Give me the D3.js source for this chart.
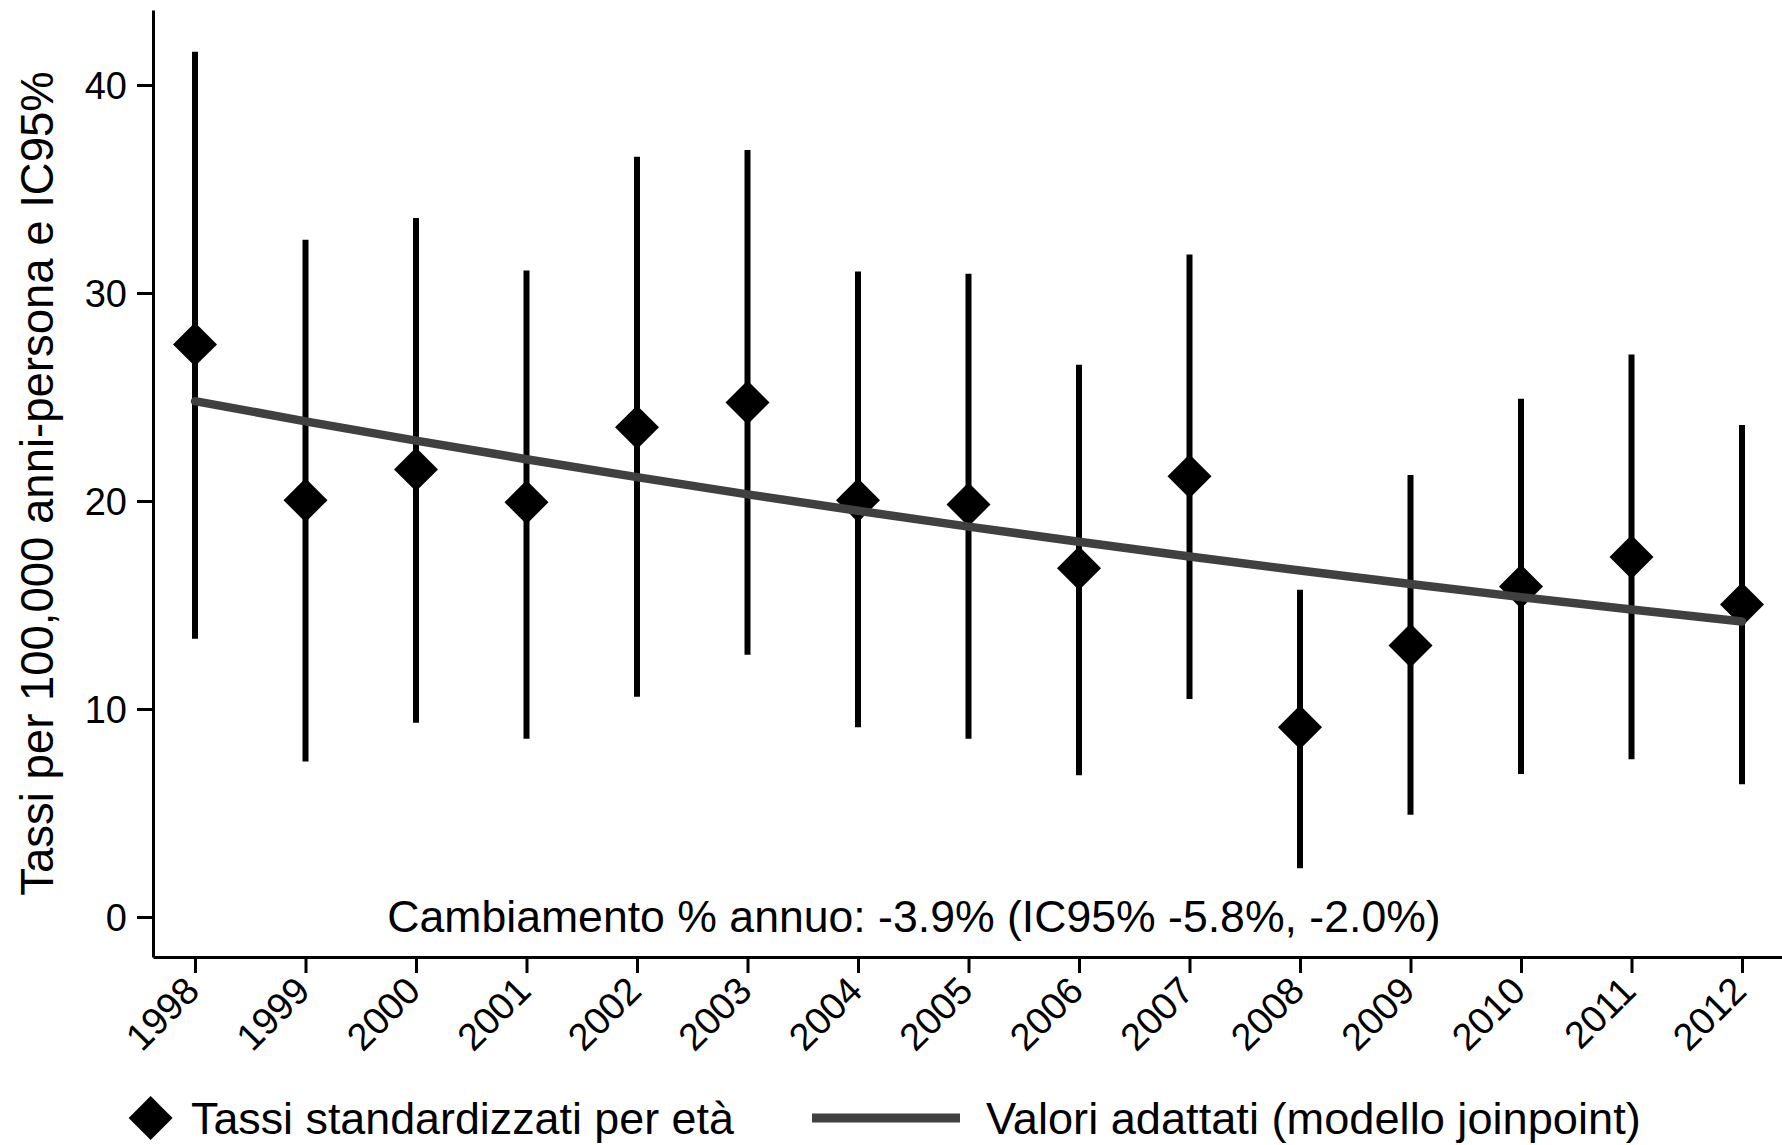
<!DOCTYPE html>
<html>
<head>
<meta charset="utf-8">
<script src="https://cdn.jsdelivr.net/npm/d3@7"></script>
<style>
  html, body { margin: 0; padding: 0; background: #ffffff; }
  svg { display: block; }
  text { font-family: "Liberation Sans", Arial, Helvetica, sans-serif; fill: #000; }
</style>
</head>
<body>
<svg id="chart" width="1782" height="1145"></svg>
<script>
// Age-standardised rates per 100,000 person-years, with 95% CI, 1998-2012
const years   = [1998, 1999, 2000, 2001, 2002, 2003, 2004, 2005, 2006, 2007, 2008, 2009, 2010, 2011, 2012];
const rates   = [27.53, 20.04, 21.52, 19.94, 23.54, 24.74, 20.04, 19.83, 16.77, 21.19, 9.12, 13.05, 15.89, 17.31, 15.02];
const ciLower = [13.38, 7.48, 9.34, 8.57, 10.59, 12.61, 9.12, 8.57, 6.82, 10.48, 2.34, 4.91, 6.88, 7.59, 6.38];
const ciUpper = [41.60, 32.56, 33.60, 31.08, 36.55, 36.87, 31.03, 30.92, 26.55, 31.85, 15.73, 21.25, 24.91, 27.04, 23.65];
// Joinpoint fitted values
const fitted  = [24.80, 23.83, 22.90, 22.01, 21.15, 20.32, 19.53, 18.77, 18.04, 17.33, 16.66, 16.01, 15.38, 14.78, 14.21];
const yTicks  = [0, 10, 20, 30, 40];

const yTitle = "Tassi per 100,000 anni-persona e IC95%";
const note = "Cambiamento % annuo: -3.9% (IC95% -5.8%, -2.0%)";
const legendLabels = ["Tassi standardizzati per età", "Valori adattati (modello joinpoint)"];

const svg = d3.select("#chart");

// Plot frame
const frame = { left: 153, right: 1782, top: 10, bottom: 957 };

// Scales: tick positions 1998 -> 195, 2012 -> 1742; 0 -> 917, 40 -> 85
const xBase = d3.scaleLinear().domain([1998, 2012]).range([195, 1742]);
const x = d3.scaleLinear().domain([xBase.invert(frame.left), xBase.invert(frame.right)]).range([frame.left, frame.right]);
const yBase = d3.scaleLinear().domain([0, 40]).range([917, 85]);
const y = d3.scaleLinear().domain([yBase.invert(frame.bottom), yBase.invert(frame.top)]).range([frame.bottom, frame.top]);

const fontStack = '"Liberation Sans", Arial, sans-serif';

// Y axis
const yAxis = svg.append("g")
  .attr("transform", `translate(${frame.left},0)`)
  .call(d3.axisLeft(y).tickValues(yTicks).tickFormat(d3.format("d")).tickSize(16).tickSizeOuter(0).tickPadding(10));
yAxis.select(".domain").attr("stroke", "#000").attr("stroke-width", 3);
yAxis.selectAll(".tick line").attr("stroke", "#000").attr("stroke-width", 3);
yAxis.selectAll(".tick text").attr("font-size", 38).attr("dy", "0.36em")
  .style("font-family", fontStack);

// X axis
const xAxis = svg.append("g")
  .attr("transform", `translate(0,${frame.bottom})`)
  .call(d3.axisBottom(x).tickValues(years).tickFormat(d3.format("d")).tickSize(16).tickSizeOuter(0));
xAxis.select(".domain").attr("stroke", "#000").attr("stroke-width", 3);
xAxis.selectAll(".tick line").attr("stroke", "#000").attr("stroke-width", 3);
xAxis.selectAll(".tick text")
  .attr("font-size", 38)
  .attr("text-anchor", "end")
  .attr("y", 0).attr("dy", 0)
  .attr("transform", "translate(6,36) rotate(-45)")
  .style("font-family", fontStack);

// Y axis title
svg.append("text")
  .attr("transform", `translate(53,${(frame.top + frame.bottom) / 2}) rotate(-90)`)
  .attr("text-anchor", "middle")
  .attr("font-size", 45.5)
  .text(yTitle);

// Confidence interval bars
svg.append("g").selectAll("line")
  .data(years)
  .join("line")
  .attr("x1", (d) => x(d)).attr("x2", (d) => x(d))
  .attr("y1", (d, i) => y(ciLower[i]))
  .attr("y2", (d, i) => y(ciUpper[i]))
  .attr("stroke", "#000")
  .attr("stroke-width", 6);

// Rate markers (diamonds)
const diamond = d3.symbol().type(d3.symbolSquare).size(967);
svg.append("g").selectAll("path")
  .data(years)
  .join("path")
  .attr("d", diamond)
  .attr("transform", (d, i) => `translate(${x(d)},${y(rates[i])}) rotate(45)`)
  .attr("fill", "#000");

// Fitted joinpoint line
const line = d3.line().x((d, i) => x(years[i])).y((d) => y(d));
svg.append("path")
  .datum(fitted)
  .attr("d", line)
  .attr("fill", "none")
  .attr("stroke", "#404040")
  .attr("stroke-width", 8.5)
  .attr("stroke-linecap", "round");

// Annual percent change note
svg.append("text")
  .attr("x", 914).attr("y", 932)
  .attr("text-anchor", "middle")
  .attr("font-size", 44.6)
  .text(note);

// Legend
const legY = 1118;
svg.append("path")
  .attr("d", diamond)
  .attr("transform", `translate(150.6,${legY}) rotate(45)`)
  .attr("fill", "#000");
svg.append("text")
  .attr("x", 191).attr("y", legY + 15.5)
  .attr("font-size", 44.8)
  .text(legendLabels[0]);
svg.append("line")
  .attr("x1", 812).attr("x2", 960)
  .attr("y1", legY).attr("y2", legY)
  .attr("stroke", "#404040")
  .attr("stroke-width", 9);
svg.append("text")
  .attr("x", 986).attr("y", legY + 15.5)
  .attr("font-size", 45.2)
  .text(legendLabels[1]);
</script>
</body>
</html>
